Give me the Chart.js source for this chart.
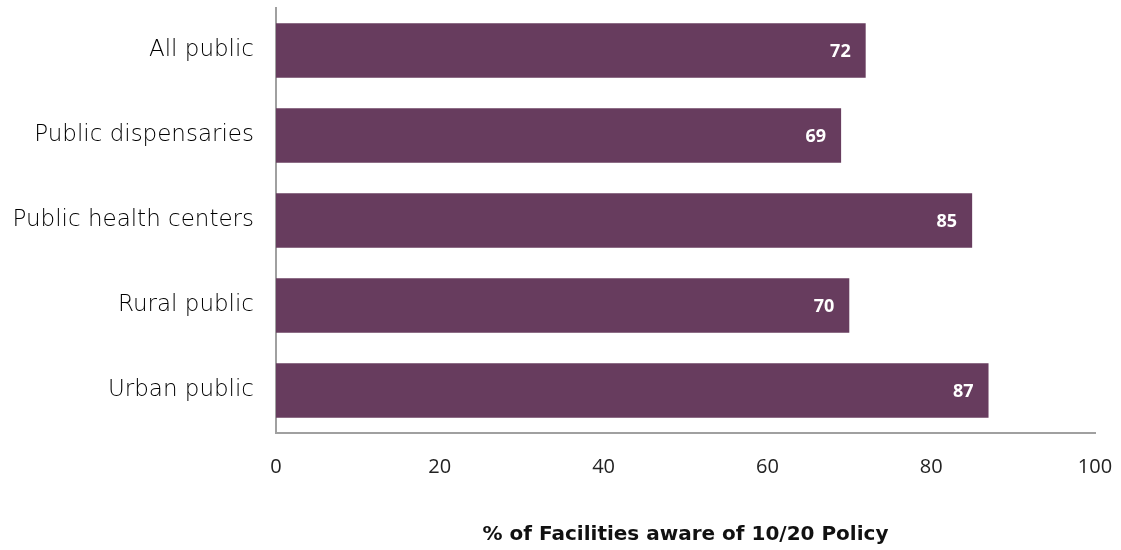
<!DOCTYPE html>
<html>
<head>
<meta charset="utf-8">
<script src="https://cdn.jsdelivr.net/npm/chart.js@4/dist/chart.umd.min.js"></script>
<style>
  html, body { margin: 0; padding: 0; background: #fff; }
  #awareChart { display: block; }
</style>
</head>
<body>
<canvas id="awareChart" width="1121" height="550"></canvas>
<script>
// Facility types and share aware of the 10/20 policy
const facilityTypes = ['All public', 'Public dispensaries', 'Public health centers', 'Rural public', 'Urban public'];
const awarePct = [72, 69, 85, 70, 87];
const xTicks = [0, 20, 40, 60, 80, 100];

const barColor = '#673c5e';
const axisGray = '#a0a0a0';

// Writes the value in white near the end of each bar
const valueLabels = {
    id: 'valueLabels',
    afterDatasetsDraw(chart) {
        const ctx = chart.ctx;
        const meta = chart.getDatasetMeta(0);
        ctx.save();
        ctx.font = 'bold 18px "Noto Sans"';
        ctx.fillStyle = '#ffffff';
        ctx.textAlign = 'right';
        ctx.textBaseline = 'middle';
        meta.data.forEach(function (bar, i) {
            ctx.fillText(String(awarePct[i]), bar.x - 15, bar.y + 1);
        });
        ctx.restore();
    }
};

const config = {
    type: 'bar',
    data: {
        labels: facilityTypes,
        datasets: [{
            data: awarePct,
            backgroundColor: barColor,
            borderWidth: 0,
            categoryPercentage: 1,
            barPercentage: 0.64
        }]
    },
    options: {
        indexAxis: 'y',
        responsive: false,
        animation: false,
        layout: { padding: { top: 8, right: 26, left: 0, bottom: 0 } },
        plugins: {
            legend: { display: false },
            tooltip: { enabled: false }
        },
        scales: {
            x: {
                min: 0,
                max: 100,
                afterBuildTicks: function (scale) {
                    scale.ticks = xTicks.map(v => ({ value: v }));
                },
                afterFit: function (scale) {
                    scale.height = 117;
                    scale.paddingLeft = 0;
                    scale.paddingRight = 0;
                },
                grid: { display: false, drawTicks: false },
                border: { color: axisGray, width: 2 },
                ticks: {
                    padding: 22,
                    color: '#222',
                    font: { family: '"Open Sans"', size: 20 }
                },
                title: {
                    display: true,
                    text: '% of Facilities aware of 10/20 Policy',
                    color: '#111',
                    font: { family: '"DejaVu Sans"', size: 20, weight: 'bold' },
                    padding: { top: 0, bottom: 3 }
                }
            },
            y: {
                afterFit: function (scale) {
                    scale.width = 276;
                    scale.paddingTop = 0;
                    scale.paddingBottom = 0;
                },
                grid: { display: false, drawTicks: false },
                border: { color: axisGray, width: 2 },
                ticks: {
                    padding: 22,
                    color: '#000',
                    font: { family: '"DejaVu Sans"', size: 23, weight: 300 }
                }
            }
        }
    },
    plugins: [valueLabels]
};

new Chart(document.getElementById('awareChart').getContext('2d'), config);
</script>
</body>
</html>
